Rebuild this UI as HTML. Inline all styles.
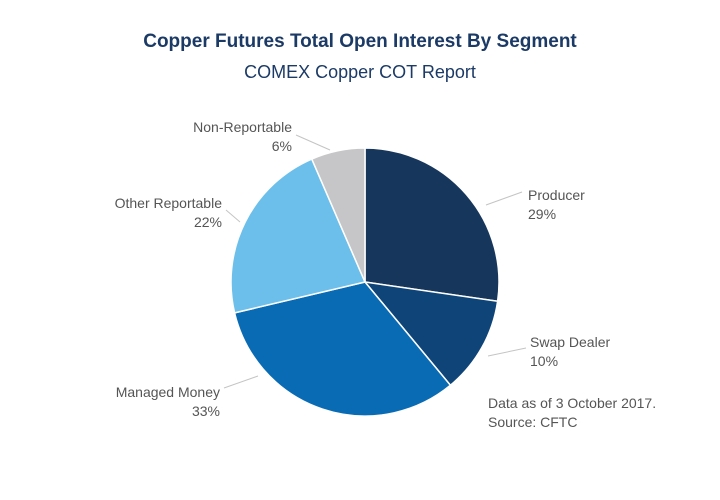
<!DOCTYPE html>
<html><head><meta charset="utf-8"><style>
body{margin:0;background:#fff;}
svg{display:block;font-family:"Liberation Sans",sans-serif;}
</style></head><body>
<svg id="chart" width="720" height="500">
<text x="360" y="47" text-anchor="middle" font-size="19" font-weight="bold" fill="#1b3a66">Copper Futures Total Open Interest By Segment</text>
<text x="360" y="78" text-anchor="middle" font-size="18" fill="#1b3a66">COMEX Copper COT Report</text>
<g id="slices"></g>
<g id="labels"></g>
<text x="488" y="408" font-size="14" fill="#555">Data as of 3 October 2017.</text>
<text x="488" y="427" font-size="14" fill="#555">Source: CFTC</text>
</svg>
<script>
const categories = ["Producer","Swap Dealer","Managed Money","Other Reportable","Non-Reportable"];
const values = [27.3, 11.7, 32.3, 22.2, 6.5];
const printedLabels = ["29%","10%","33%","22%","6%"];
const colors = ["#17365c","#0e4478","#0a6bb5","#6cbfea","#c6c6c8"];
// label layout (styling, not data): line from/to, text anchor position
const labelLayout = [
  {l:[486,205,522,192], x:528, y:200, a:'start'},
  {l:[488,356,526,348], x:530, y:347, a:'start'},
  {l:[224,388,258,376], x:220, y:397, a:'end'},
  {l:[226,210,240,222], x:222, y:208, a:'end'},
  {l:[296,135,330,150], x:292, y:132, a:'end'}
];
const cx=365, cy=282, r=134;
const NS="http://www.w3.org/2000/svg";
const total=values.reduce((a,b)=>a+b,0);
const sg=document.getElementById('slices'), lg=document.getElementById('labels');
function pt(a,rad){return [cx+rad*Math.sin(a), cy-rad*Math.cos(a)];}
let acc=0;
values.forEach((v,i)=>{
  const a0=acc/total*2*Math.PI; acc+=v; const a1=acc/total*2*Math.PI;
  const p0=pt(a0,r), p1=pt(a1,r);
  const large=(a1-a0)>Math.PI?1:0;
  const p=document.createElementNS(NS,'path');
  p.setAttribute('d',`M${cx},${cy}L${p0[0]},${p0[1]}A${r},${r} 0 ${large} 1 ${p1[0]},${p1[1]}Z`);
  p.setAttribute('fill',colors[i]); p.setAttribute('stroke','#fff'); p.setAttribute('stroke-width','1.5');
  
  
  sg.appendChild(p);
  const L=labelLayout[i];
  const ln=document.createElementNS(NS,'line');
  ln.setAttribute('x1',L.l[0]);ln.setAttribute('y1',L.l[1]);ln.setAttribute('x2',L.l[2]);ln.setAttribute('y2',L.l[3]);
  ln.setAttribute('stroke','#c4c4c4');ln.setAttribute('stroke-width','1');
  
  
  lg.appendChild(ln);
  [categories[i],printedLabels[i]].forEach((s,k)=>{
    const t=document.createElementNS(NS,'text');
    t.setAttribute('x',L.x); t.setAttribute('y',L.y+k*19);
    t.setAttribute('text-anchor',L.a);
    t.setAttribute('font-size','14'); t.setAttribute('fill','#555');
    t.textContent=s;
    
    
    lg.appendChild(t);
  });
});
</script>
</body></html>
